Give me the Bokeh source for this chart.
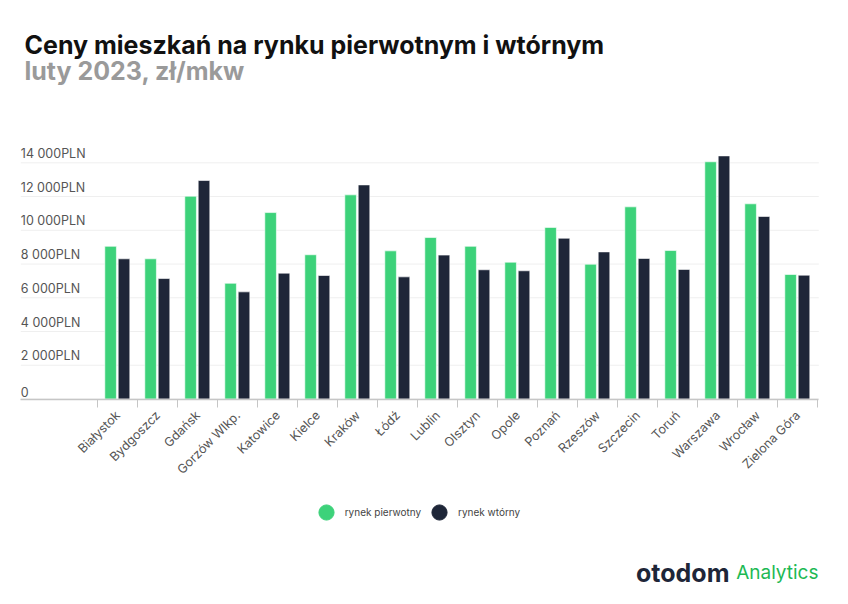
import math
from bokeh.plotting import figure
from bokeh.models import (Range1d, LinearAxis, FixedTicker, Label, Legend, LegendItem,
                          ColumnDataSource)
from bokeh.core.properties import value
from bokeh.embed import file_html
from bokeh.resources import INLINE

cities = ["Białystok", "Bydgoszcz", "Gdańsk", "Gorzów Wlkp.", "Katowice", "Kielce", "Kraków",
          "Łódź", "Lublin", "Olsztyn", "Opole", "Poznań", "Rzeszów", "Szczecin", "Toruń",
          "Warszawa", "Wrocław", "Zielona Góra"]
pierwotny = [9050, 8310, 12020, 6860, 11050, 8550, 12100, 8780, 9570, 9050, 8110, 10170, 7990,
             11390, 8800, 14060, 11570, 7380]
wtorny = [8310, 7140, 12950, 6350, 7460, 7320, 12690, 7240, 8530, 7660, 7600, 9530, 8720,
          8330, 7680, 14410, 10820, 7340]
y_ticks = [0, 2000, 4000, 6000, 8000, 10000, 12000, 14000]
y_tick_labels = ["0", "2 000PLN", "4 000PLN", "6 000PLN", "8 000PLN", "10 000PLN", "12 000PLN",
                 "14 000PLN"]
series_names = ["rynek pierwotny", "rynek wtórny"]

GREEN = "#3dd27a"
DARK = "#1e2638"
FONT = "Inter"
W, H = 848, 604

n = len(cities)
centers = [i + 0.5 for i in range(n)]
x_lo, x_hi = -1.925, n + 0.025

p = figure(width=W, height=H, output_backend="svg", toolbar_location=None,
           x_axis_type=None, y_axis_type=None,
           x_range=Range1d(-2.4325, 18.7675), y_range=Range1d(-12180, 23620),
           min_border=0)
p.xgrid.visible = False
p.ygrid.visible = False
p.outline_line_color = None
p.background_fill_color = "white"
p.border_fill_color = "white"

# horizontal grid lines over the plotting area
p.segment(x0=[x_lo] * len(y_ticks), x1=[x_hi] * len(y_ticks), y0=y_ticks, y1=y_ticks,
          line_color="#efefef", line_width=1)

src = ColumnDataSource(dict(c=centers, p=pierwotny, w=wtorny,
                            xp=[c - 0.18 for c in centers], xw=[c + 0.155 for c in centers]))
p.vbar(x="xp", top="p", width=0.29, source=src, fill_color=GREEN, line_color="white",
       line_width=1, line_alpha=0.6)
p.vbar(x="xw", top="w", width=0.29, source=src, fill_color=DARK, line_color="white",
       line_width=1, line_alpha=0.6)

# y labels inside plot
p.text(x=[x_lo] * len(y_ticks), y=y_ticks, text=y_tick_labels, text_align="left",
       text_baseline="bottom", y_offset=-2, text_font=value(FONT), text_font_size="12.5px",
       text_color="#555555")

xaxis = LinearAxis(ticker=FixedTicker(ticks=centers, minor_ticks=list(range(n + 1))),
                   major_label_overrides={c: name for c, name in zip(centers, cities)},
                   fixed_location=0, bounds=(x_lo, x_hi))
xaxis.axis_line_color = "#c6c6c6"
xaxis.axis_line_width = 1.5
xaxis.major_tick_line_color = None
xaxis.minor_tick_line_color = "#c6c6c6"
xaxis.minor_tick_in = 0
xaxis.minor_tick_out = 8
xaxis.major_label_orientation = math.pi / 4
xaxis.major_label_text_font = FONT
xaxis.major_label_text_font_size = "12.5px"
xaxis.major_label_text_color = "#555555"
xaxis.major_label_standoff = 6
p.add_layout(xaxis, "below")

# legend (markers of size 0 in the plot; legend draws its own circle)
r1 = p.scatter(x="xp", y="p", source=src, marker="circle", size=0,
               fill_color=GREEN, line_color=GREEN)
r2 = p.scatter(x="xw", y="w", source=src, marker="circle", size=0,
               fill_color=DARK, line_color=DARK)
for r, name, loc in [(r1, series_names[0], (306.7, 72.7)), (r2, series_names[1], (420, 72.7))]:
    lg = Legend(items=[LegendItem(label=name, renderers=[r])], location=loc,
                glyph_width=38, glyph_height=38, label_standoff=0, padding=0, margin=0,
                border_line_color=None, background_fill_alpha=0,
                label_text_font=FONT, label_text_font_size="10px", label_text_color="#444444")
    p.add_layout(lg)

# titles
p.add_layout(Label(x=24, y=560, x_units="screen", y_units="screen",
                   text="Ceny mieszkań na rynku pierwotnym i wtórnym", text_font=FONT,
                   text_font_size="25px", text_font_style="bold", text_color="#111111",
                   text_baseline="alphabetic"))
p.add_layout(Label(x=24, y=534, x_units="screen", y_units="screen",
                   text="luty 2023, zł/mkw", text_font=FONT,
                   text_font_size="25px", text_font_style="bold", text_color="#9a9a9a",
                   text_baseline="alphabetic"))
p.add_layout(Label(x=729, y=32, x_units="screen", y_units="screen",
                   text="otodom", text_font=FONT, text_font_size="25px",
                   text_font_style="bold", text_color="#1e2638", text_align="right",
                   text_baseline="alphabetic"))
p.add_layout(Label(x=818, y=32, x_units="screen", y_units="screen",
                   text="Analytics", text_font=FONT, text_font_size="19px",
                   text_color="#1db954", text_align="right", text_baseline="alphabetic"))

open("out.html", "w").write(file_html(p, INLINE))
